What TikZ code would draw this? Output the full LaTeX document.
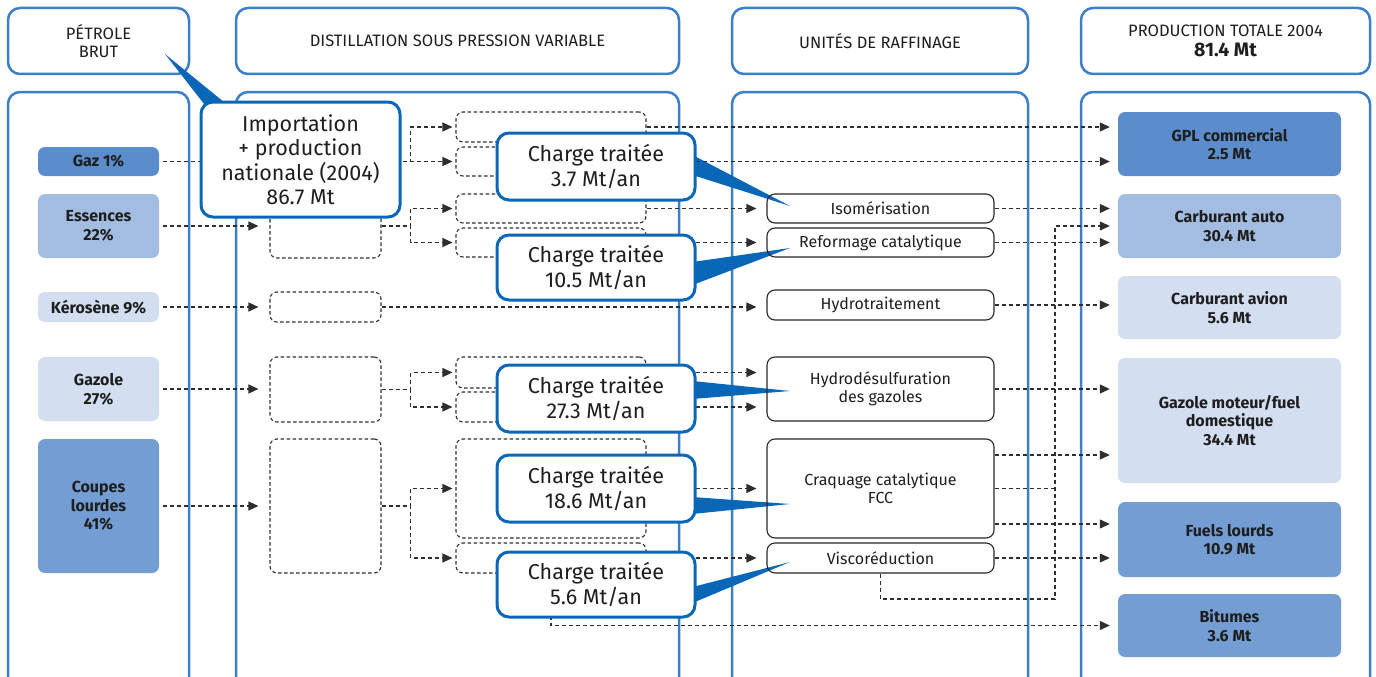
\documentclass[tikz,border=0pt]{standalone}
\usepackage{fontspec}
\setmainfont{Fira Sans}
\usetikzlibrary{arrows.meta}

\definecolor{cadre}{HTML}{3D7FC6}
\definecolor{bleubulle}{HTML}{0A67B8}
\definecolor{bleuA}{HTML}{5B8CCB}
\definecolor{bleuB}{HTML}{A3BDE2}
\definecolor{bleuC}{HTML}{D3DEF0}
\definecolor{bleuD}{HTML}{739DD3}
\definecolor{trait}{HTML}{2E2E2E}
\definecolor{texte}{HTML}{1E1E1E}

\pgfdeclarelayer{fond}
\pgfsetlayers{fond,main}

\begin{document}
\begin{tikzpicture}[x=1pt, y=-1pt,
    panneau/.style={draw=cadre, line width=2.5pt, rounded corners=12pt},
    titre/.style={panneau, align=center, inner sep=0pt, text=texte, font=\fontsize{16.5}{18.5}\selectfont},
    produit/.style={rounded corners=7pt, align=center, inner sep=0pt, minimum width=121, text=texte, font=\fontsize{16}{18.5}\selectfont\bfseries},
    bac/.style={draw=trait, line width=1.1pt, dash pattern=on 3.5pt off 2.5pt, rounded corners=7pt, inner sep=0pt},
    unite/.style={draw=black!85, line width=1.1pt, rounded corners=8pt, align=center, inner sep=0pt, minimum width=227, text=texte, font=\fontsize{16}{18.5}\selectfont},
    bulle/.style={draw=bleubulle, line width=3pt, fill=white, rounded corners=12pt, align=center, inner sep=0pt, minimum width=198, text=texte, font=\fontsize{21.5}{24.5}\selectfont},
    lien/.style={draw=trait, line width=1.2pt, dash pattern=on 4pt off 3pt},
    flux/.style={lien, -{Triangle[length=10pt,width=9pt]}}
]
\useasboundingbox (0,0) rectangle (1376,677);

\begin{pgfonlayer}{fond}
    % Colonnes
    \draw[panneau] (8,92) rectangle (189,700);
    \draw[panneau] (236,92) rectangle (679,700);
    \draw[panneau] (732,92) rectangle (1028,700);
    \draw[panneau] (1081,92) rectangle (1370,700);

    % Titres
    \node[titre, minimum width=181, minimum height=66] (hbrut) at (98.5,41) {PÉTROLE\\BRUT};
    \node[titre, minimum width=443, minimum height=66] (hdist) at (457.5,41) {DISTILLATION SOUS PRESSION VARIABLE};
    \node[titre, minimum width=296, minimum height=66] (hunit) at (880,41) {UNITÉS DE RAFFINAGE};
    \node[titre, minimum width=289, minimum height=66] (hprod) at (1225.5,41)
        {PRODUCTION TOTALE 2004\\[2pt]{\fontsize{19.5}{21}\selectfont\bfseries 81.4 Mt}};
\end{pgfonlayer}

% Petrole brut
\node[produit, fill=bleuA, minimum height=29] (gaz) at (98.5,161.5) {Gaz 1\%};
\node[produit, fill=bleuB, minimum height=64] (ess) at (98.5,226) {Essences\\22\%};
\node[produit, fill=bleuC, minimum height=30] (kero) at (98.5,307) {Kérosène 9\%};
\node[produit, fill=bleuC, minimum height=64] (gazole) at (98.5,389) {Gazole\\27\%};
\node[produit, fill=bleuD, minimum height=134] (coupes) at (98.5,506) {Coupes\\lourdes\\41\%};

% Distillation, premier niveau
\node[bac, minimum width=111, minimum height=29] (d1gaz) at (325.5,161.5) {};
\node[bac, minimum width=111, minimum height=64] (d1ess) at (325.5,226) {};
\node[bac, minimum width=111, minimum height=30] (d1kero) at (325.5,307) {};
\node[bac, minimum width=111, minimum height=65] (d1gazole) at (325.5,389.5) {};
\node[bac, minimum width=111, minimum height=134] (d1coupes) at (325.5,506) {};

% Distillation, second niveau
\node[bac, minimum width=190, minimum height=30] (d2a) at (551,127) {};
\node[bac, minimum width=190, minimum height=29] (d2b) at (551,161.5) {};
\node[bac, minimum width=190, minimum height=29] (d2c) at (551,208.5) {};
\node[bac, minimum width=190, minimum height=29] (d2d) at (551,242.5) {};
\node[bac, minimum width=190, minimum height=31] (d2e) at (551,372.5) {};
\node[bac, minimum width=190, minimum height=30] (d2f) at (551,407) {};
\node[bac, minimum width=190, minimum height=99] (d2g) at (551,488.5) {};
\node[bac, minimum width=190, minimum height=30] (d2h) at (551,558) {};

% Unites de raffinage
\node[unite, minimum height=29] (iso) at (880.5,208.5) {Isomérisation};
\node[unite, minimum height=29] (ref) at (880.5,242.5) {Reformage catalytique};
\node[unite, minimum height=30] (hydro) at (880.5,305) {Hydrotraitement};
\node[unite, minimum height=64] (hds) at (880.5,389) {Hydrodésulfuration\\des gazoles};
\node[unite, minimum height=99] (fcc) at (880.5,488.5) {Craquage catalytique\\FCC};
\node[unite, minimum height=30] (visco) at (880.5,558) {Viscoréduction};

% Production
\node[produit, minimum width=223, fill=bleuA, minimum height=64] (gpl) at (1229.5,144) {GPL commercial\\2.5 Mt};
\node[produit, minimum width=223, fill=bleuB, minimum height=64] (auto) at (1229.5,226) {Carburant auto\\30.4 Mt};
\node[produit, minimum width=223, fill=bleuC, minimum height=63] (avion) at (1229.5,307.5) {Carburant avion\\5.6 Mt};
\node[produit, minimum width=223, fill=bleuC, minimum height=125] (gazmot) at (1229.5,420.5) {Gazole moteur/fuel\\domestique\\34.4 Mt};
\node[produit, minimum width=223, fill=bleuD, minimum height=75] (fuels) at (1229.5,539.5) {Fuels lourds\\10.9 Mt};
\node[produit, minimum width=223, fill=bleuD, minimum height=63] (bit) at (1229.5,625.5) {Bitumes\\3.6 Mt};

% Brut -> distillation
\foreach \a/\b in {gaz/d1gaz, ess/d1ess, kero/d1kero, gazole/d1gazole, coupes/d1coupes}
    \draw[flux, shorten <=4pt, shorten >=11pt] (\a.east) -- (\a.east -| \b.west);

% Premier niveau -> second niveau
\foreach \a/\b/\c in {d1gaz/d2a/d2b, d1ess/d2c/d2d, d1gazole/d2e/d2f, d1coupes/d2g/d2h} {
    \draw[flux, shorten >=3pt] (\a.east) -- ++(29,0) |- (\b.west);
    \draw[flux, shorten >=3pt] (\a.east) -- ++(29,0) |- (\c.west);
}

% Distillation -> unites et produits
\draw[flux, shorten >=8pt] (d2a.east) -- (d2a.east -| gpl.west);
\draw[flux, shorten >=8pt] (d2b.east) -- (d2b.east -| gpl.west);
\draw[flux, shorten >=10pt] (d2c.east) -- (iso.west);
\draw[flux, shorten >=10pt] (d2d.east) -- (ref.west);
\draw[flux, shorten >=10pt] (d1kero.east) -- (d1kero.east -| hydro.west);
\draw[flux, shorten >=10pt] (d2e.east) -- (d2e.east -| hds.west);
\draw[flux, shorten >=10pt] (d2f.east) -- (d2f.east -| hds.west);
\draw[flux, shorten >=10pt] (d2g.east) -- (d2g.east -| fcc.west);
\draw[flux, shorten >=10pt] (d2h.east) -- (visco.west);
\draw[flux, shorten >=8pt] (d2h.south) |- (bit.west);

% Unites -> produits
\coordinate (fcc1) at ([yshift=33.5pt]fcc.east);
\coordinate (fcc3) at ([yshift=-35.5pt]fcc.east);
\coordinate (retour) at (1055,599);
\draw[flux, shorten >=8pt] (iso.east) -- (iso.east -| auto.west);
\draw[flux, shorten >=8pt] (ref.east) -- (ref.east -| auto.west);
\draw[flux, shorten >=8pt] (hydro.east) -- (hydro.east -| avion.west);
\draw[flux, shorten >=8pt] (hds.east) -- (hds.east -| gazmot.west);
\draw[flux, shorten >=8pt] (fcc1) -- (fcc1 -| gazmot.west);
\draw[flux, shorten >=8pt] (fcc3) -- (fcc3 -| fuels.west);
\draw[flux, shorten >=8pt] (visco.east) -- (visco.east -| fuels.west);
\draw[lien] (fcc.east) -- (fcc.east -| retour);
\draw[flux, shorten >=8pt] (visco.south) |- (retour) |- (auto.west);

% Bulles
\node[bulle, minimum width=199, minimum height=115] (cimp) at (300.5,159.5)
    {Importation\\+ production\\nationale (2004)\\86.7 Mt};
\node[bulle, minimum height=67] (c1) at (596,166.5) {Charge traitée\\3.7 Mt/an};
\node[bulle, minimum height=65] (c2) at (596,267.5) {Charge traitée\\10.5 Mt/an};
\node[bulle, minimum height=67] (c3) at (596,398.5) {Charge traitée\\27.3 Mt/an};
\node[bulle, minimum height=67] (c4) at (596,488.5) {Charge traitée\\18.6 Mt/an};
\node[bulle, minimum height=65] (c5) at (596,584.5) {Charge traitée\\5.6 Mt/an};

\begin{pgfonlayer}{fond}
    % Pointes des bulles
    \coordinate (pimp) at (165,54);
    \coordinate (p1) at (790,206);
    \coordinate (p2) at (790,248);
    \coordinate (p3) at (790,391);
    \coordinate (p4) at (790,504);
    \coordinate (p5) at (790,562);
    \fill[bleubulle] ([xshift=5pt,yshift=-4pt]cimp.north west) -- (pimp) -- ([xshift=25pt,yshift=-2pt]cimp.north west) -- cycle;
    \fill[bleubulle] ([xshift=-4pt,yshift=11.5pt]c1.east) -- (p1) -- ([xshift=-4pt,yshift=-8.5pt]c1.east) -- cycle;
    \fill[bleubulle] ([xshift=-4pt,yshift=5.5pt]c2.east) -- (p2) -- ([xshift=-4pt,yshift=-17.5pt]c2.east) -- cycle;
    \fill[bleubulle] ([xshift=-4pt,yshift=17.5pt]c3.east) -- (p3) -- ([xshift=-4pt,yshift=-0.5pt]c3.east) -- cycle;
    \fill[bleubulle] ([xshift=-4pt,yshift=-8.5pt]c4.east) -- (p4) -- ([xshift=-4pt,yshift=-25.5pt]c4.east) -- cycle;
    \fill[bleubulle] ([xshift=-4pt,yshift=-2.5pt]c5.east) -- (p5) -- ([xshift=-4pt,yshift=-18.5pt]c5.east) -- cycle;
\end{pgfonlayer}
\end{tikzpicture}
\end{document}
